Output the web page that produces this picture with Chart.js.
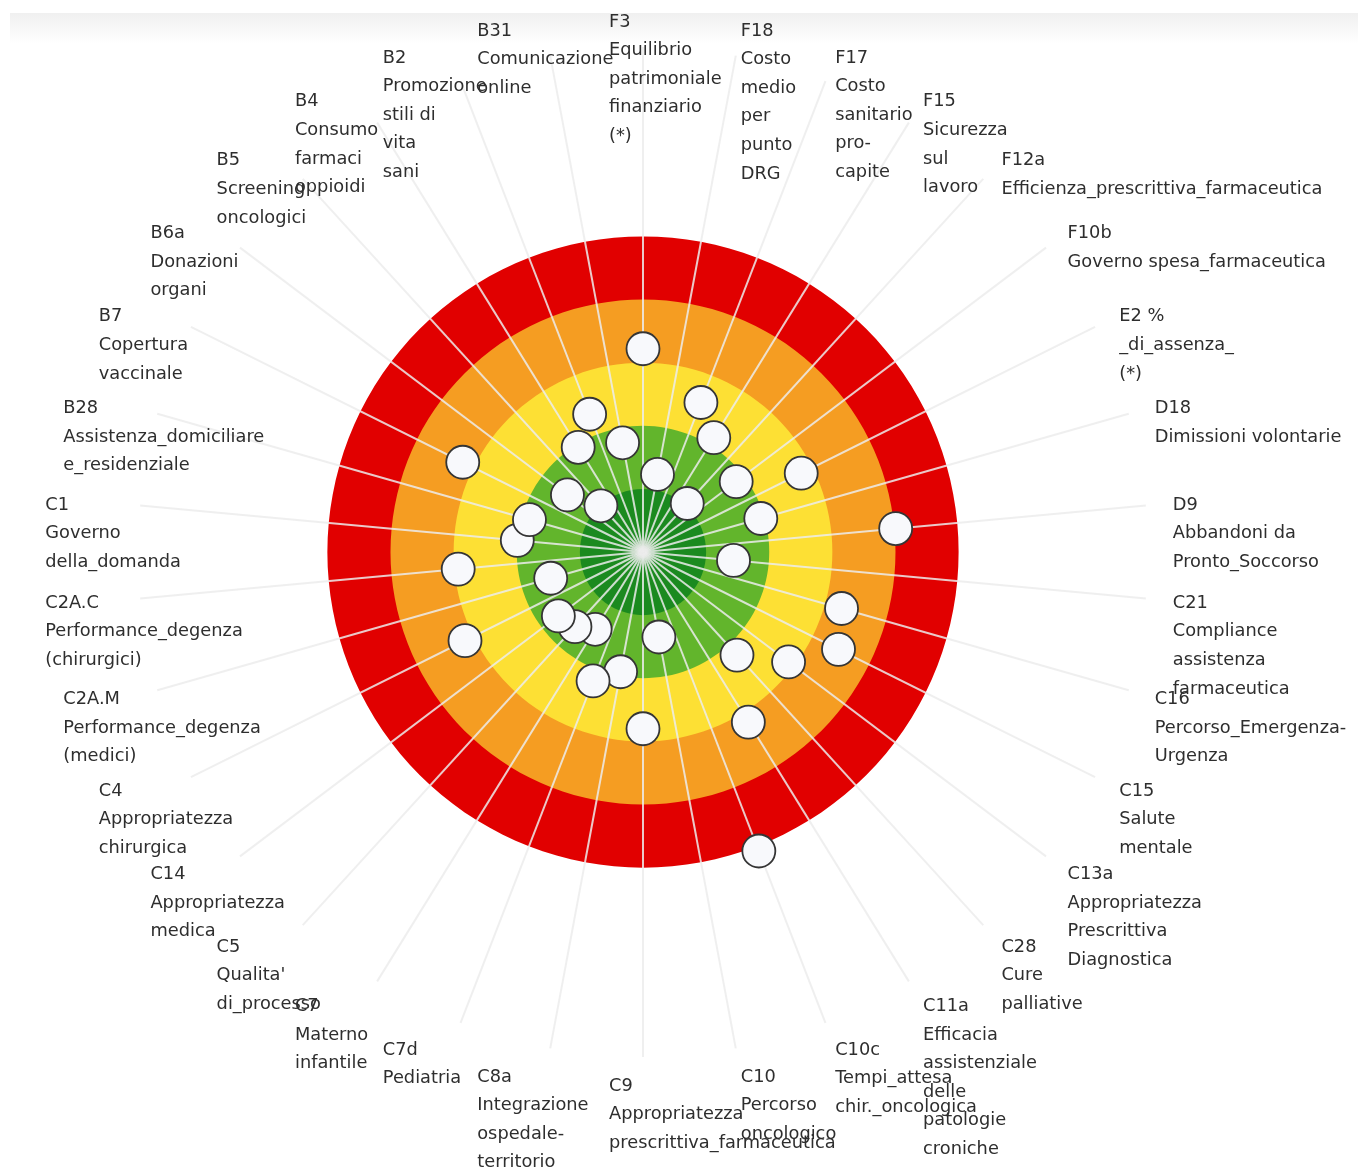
<!DOCTYPE html>
<html>
<head>
<meta charset="utf-8">
<script src="https://cdn.jsdelivr.net/npm/chart.js@4/dist/chart.umd.min.js"></script>
<style>
html,body{margin:0;padding:0;background:#fff;}
#wrap{position:relative;width:1358px;height:1171px;overflow:hidden;}
#shade{position:absolute;left:10px;right:0;top:13px;height:30px;background:linear-gradient(#f0f0f0,#ffffff);}
canvas{position:absolute;left:0;top:0;}
</style>
</head>
<body>
<div id="wrap"><div id="shade"></div><canvas id="c" width="1358" height="1171"></canvas></div>
<script>
// Indicator codes (categories), clockwise from the top
const codes = ['F3','F18','F17','F15','F12a','F10b','E2','D18','D9','C21','C16','C15','C13a','C28','C11a','C10c','C10','C9','C8a','C7d','C7','C5','C14','C4','C2A.M','C2A.C','C1','B28','B7','B6a','B5','B4','B2','B31'];

// Label text, line by line
const labelLines = [
  ['F3','Equilibrio','patrimoniale','finanziario','(*)'],
  ['F18','Costo','medio','per','punto','DRG'],
  ['F17','Costo','sanitario','pro-','capite'],
  ['F15','Sicurezza','sul','lavoro'],
  ['F12a','Efficienza_prescrittiva_farmaceutica'],
  ['F10b','Governo spesa_farmaceutica'],
  ['E2 %','_di_assenza_','(*)'],
  ['D18','Dimissioni volontarie'],
  ['D9','Abbandoni da','Pronto_Soccorso'],
  ['C21','Compliance','assistenza','farmaceutica'],
  ['C16','Percorso_Emergenza-','Urgenza'],
  ['C15','Salute','mentale'],
  ['C13a','Appropriatezza','Prescrittiva','Diagnostica'],
  ['C28','Cure','palliative'],
  ['C11a','Efficacia','assistenziale','delle','patologie','croniche'],
  ['C10c','Tempi_attesa','chir._oncologica'],
  ['C10','Percorso','oncologico'],
  ['C9','Appropriatezza','prescrittiva_farmaceutica'],
  ['C8a','Integrazione','ospedale-','territorio'],
  ['C7d','Pediatria'],
  ['C7','Materno','infantile'],
  ['C5',"Qualita'",'di_processo'],
  ['C14','Appropriatezza','medica'],
  ['C4','Appropriatezza','chirurgica'],
  ['C2A.M','Performance_degenza','(medici)'],
  ['C2A.C','Performance_degenza','(chirurgici)'],
  ['C1','Governo','della_domanda'],
  ['B28','Assistenza_domiciliare','e_residenziale'],
  ['B7','Copertura','vaccinale'],
  ['B6a','Donazioni','organi'],
  ['B5','Screening','oncologici'],
  ['B4','Consumo','farmaci','oppioidi'],
  ['B2','Promozione','stili di','vita','sani'],
  ['B31','Comunicazione','online']
];

// Distance of each indicator from the centre (0 = centre, 5 = outer edge of red band)
const values = [3.22,1.25,2.54,2.13,1.04,1.85,2.80,1.94,4.02,1.44,3.27,3.46,2.89,2.21,3.17,5.08,1.37,2.80,1.93,2.19,1.44,1.60,1.68,3.15,1.52,2.94,2.00,1.87,3.19,1.50,0.99,1.95,2.34,1.76];

// Target bands (outer radius of each band) and their colours
const bandLevels = [1,2,3,4,5];
const bandColors = ['#1b8a1f','#62b52c','#fde034','#f59d22','#e10000'];

const scaleMax = 8;

const spokesPlugin = {
  id: 'spokes',
  beforeDatasetDraw(chart, args) {
    if (args.index !== 0) return;
    const s = chart.scales.r;
    const ctx = chart.ctx;
    ctx.save();
    ctx.strokeStyle = 'rgba(236,236,236,0.85)';
    ctx.lineWidth = 2;
    for (let i = 0; i < codes.length; i++) {
      const p = s.getPointPositionForValue(i, scaleMax);
      ctx.beginPath();
      ctx.moveTo(s.xCenter, s.yCenter);
      ctx.lineTo(p.x, p.y);
      ctx.stroke();
    }
    ctx.restore();
  }
};

const labelsPlugin = {
  id: 'targetLabels',
  afterDatasetsDraw(chart) {
    const s = chart.scales.r;
    const ctx = chart.ctx;
    const n = codes.length;
    ctx.save();
    ctx.font = '17.8px "DejaVu Sans", sans-serif';
    ctx.fillStyle = '#2e2e2e';
    ctx.textAlign = 'left';
    ctx.textBaseline = 'middle';
    const dist = s.drawingArea + 27;
    for (let i = 0; i < n; i++) {
      const p = s.getPointPosition(i, dist);
      const half = n / 2;
      let shift;
      if (i === 0 || i === half) shift = -34;
      else if (i < half) shift = 0;
      else shift = -68;
      labelLines[i].forEach((line, k) => {
        ctx.fillText(line, p.x + shift, p.y + 2 + k * 28.6);
      });
    }
    ctx.restore();
  }
};

const datasets = [{
  label: 'Indicatori',
  data: values,
  showLine: false,
  fill: false,
  borderWidth: 0,
  pointRadius: 16.5,
  pointBackgroundColor: '#f8f9fc',
  pointBorderColor: '#353535',
  pointBorderWidth: 1.8
}];
bandLevels.forEach((lvl, j) => {
  datasets.push({
    label: 'band' + lvl,
    data: codes.map(() => lvl),
    fill: 'origin',
    tension: 0.333,
    backgroundColor: bandColors[j],
    borderWidth: 0,
    pointRadius: 0
  });
});

new Chart(document.getElementById('c'), {
  type: 'radar',
  data: { labels: codes, datasets },
  options: {
    responsive: false,
    animation: false,
    events: [],
    layout: { padding: { left: 138, right: 210, top: 47, bottom: 114 } },
    plugins: { legend: { display: false }, tooltip: { enabled: false } },
    scales: {
      r: {
        min: 0,
        max: scaleMax,
        ticks: { display: false },
        grid: { display: false },
        angleLines: { display: false },
        pointLabels: { display: false }
      }
    }
  },
  plugins: [spokesPlugin, labelsPlugin]
});
</script>
</body>
</html>
